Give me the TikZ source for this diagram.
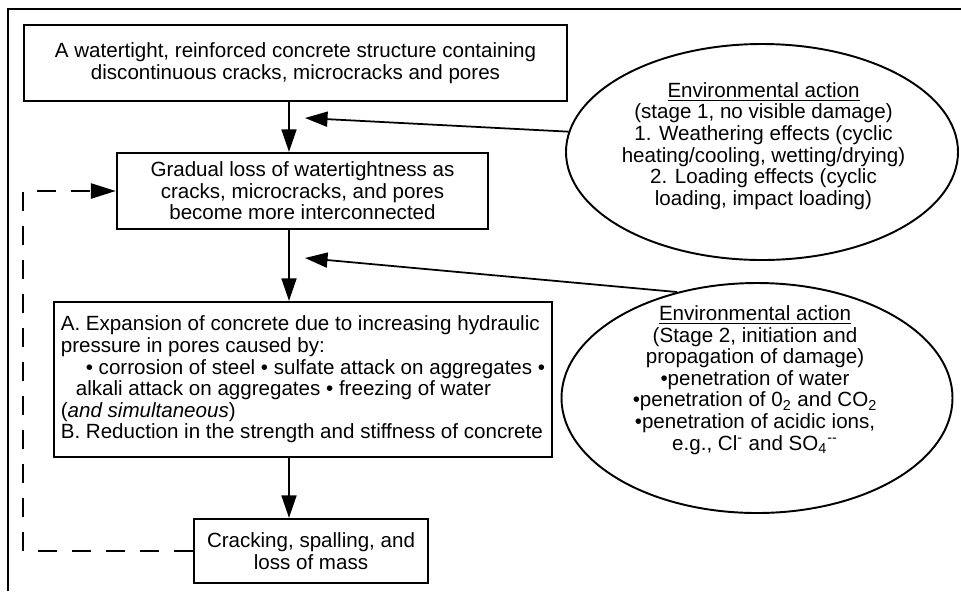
\documentclass[tikz,border=0pt]{standalone}
\usepackage{fontspec}
\setmainfont{Liberation Sans}
\usepackage{tikz}
\usetikzlibrary{arrows.meta,shapes.geometric,positioning}
\newcommand{\diagfont}{\fontsize{11.7pt}{12.3pt}\selectfont}
\tikzset{
  flowbox/.style={
    rectangle, draw=black, line width=1.3pt, fill=white,
    align=center, inner sep=0pt, font=\diagfont
  },
  envbubble/.style={ellipse, draw=black, line width=1.1pt, inner sep=0pt},
  envtext/.style={align=center, inner sep=0pt, font=\diagfont},
  flowArrow/.style={-{Triangle[length=0.45cm,width=0.3cm]}, line width=1pt},
  loopArrow/.style={-{Triangle[length=0.5cm,width=0.3cm]}, line width=1.4pt,
    dash pattern=on 0.38cm off 0.3cm}
}

\begin{document}
\begin{tikzpicture}
        \useasboundingbox (0,0) rectangle (19.22,-11.82);
        \draw[line width=0.6pt] (0.16,-11.82) -- (0.16,-0.18) -- (19.22,-0.18);
        \node[flowbox, minimum width=10.86cm, minimum height=1.52cm] (b1) at (5.91,-1.26)
          {A watertight, reinforced concrete structure containing\\
           discontinuous cracks, microcracks and pores};
        \node[flowbox, minimum width=7.42cm, minimum height=1.52cm] (b2) at (6.05,-3.82)
          {Gradual loss of watertightness as\\
           cracks, microcracks, and pores\\
           become more interconnected};
        \node[flowbox, minimum width=9.96cm, minimum height=3.1cm, align=left] (b3) at (6.06,-7.59)
          {A. Expansion of concrete due to increasing hydraulic\\
           pressure in pores caused by:\\
           \hspace*{0.5cm}• corrosion of steel • sulfate attack on aggregates •\\
           \hspace*{0.3cm}alkali attack on aggregates • freezing of water\\
           (\textit{and simultaneous})\\
           B. Reduction in the strength and stiffness of concrete};
        \node[flowbox, minimum width=4.68cm, minimum height=1.28cm] (b4) at (6.22,-11.02)
          {Cracking, spalling, and\\ loss of mass};
        \node[envbubble, minimum width=7.84cm, minimum height=4.32cm] (e1) at (15.24,-3.04) {};
        \node[envtext] (t1) at (15.27,-2.92)
          {\underline{Environmental action}\\
           (stage 1, no visible damage)\\
           1. Weathering effects (cyclic\\
           heating/cooling, wetting/drying)\\
           2. Loading effects (cyclic\\
           loading, impact loading)};
        \node[envbubble, minimum width=7.82cm, minimum height=4.6cm] (e2) at (15.14,-7.96) {};
        \node[envtext] (t2) at (15.1,-7.6)
          {\underline{Environmental action}\\
           (Stage 2, initiation and\\
           propagation of damage)\\
           •penetration of water\\
           •penetration of 0\textsubscript{2} and CO\textsubscript{2}\\
           •penetration of acidic ions,\\
           e.g., Cl\textsuperscript{-} and SO\textsubscript{4}\textsuperscript{-{}-}};
        \coordinate (spine) at (5.78,0);
        \coordinate (in1) at (6.1,-2.36);
        \coordinate (in2) at (6.1,-5.16);
        \draw[flowArrow] (b1.south -| spine) -- (b2.north -| spine);
        \draw[flowArrow] (b2.south -| spine) -- (b3.north -| spine);
        \draw[flowArrow] (b3.south -| spine) -- (b4.north -| spine);
        \draw[flowArrow] (e1.174) -- (in1);
        \draw[flowArrow] (e2.127) -- (in2);
        \draw[loopArrow] (b4.west) -- (b4.west -| b1.west) |- (b2.west);
      \end{tikzpicture}
\end{document}
